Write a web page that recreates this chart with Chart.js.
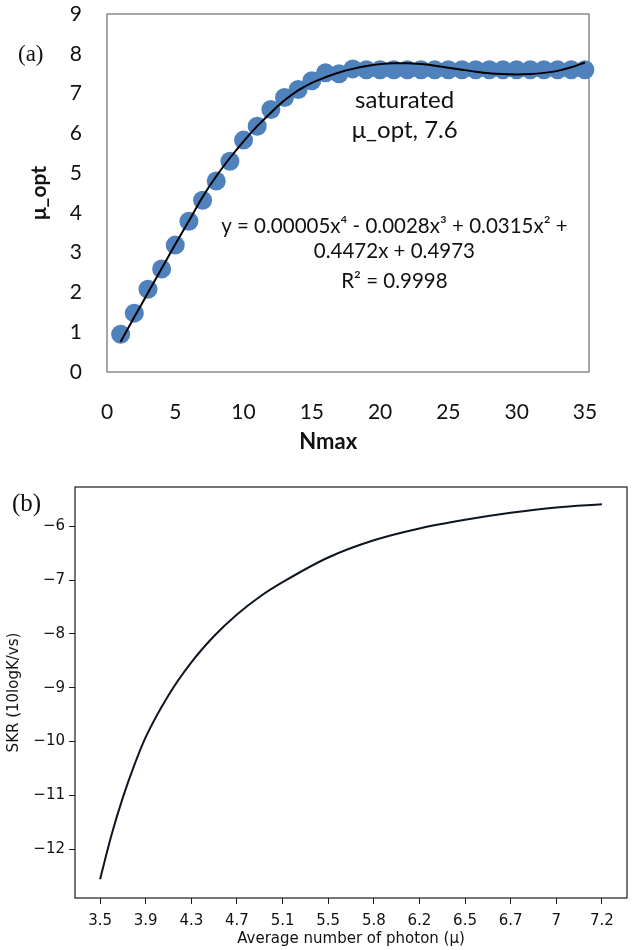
<!DOCTYPE html>
<html>
<head>
<meta charset="utf-8">
<script src="https://cdn.jsdelivr.net/npm/chart.js@4.4.1/dist/chart.umd.min.js"></script>
<style>
  body { margin: 0; background: #fff; }
  #wrap { position: relative; width: 636px; height: 950px; }
  canvas { position: absolute; left: 0; }
  #chartA { top: 0; }
  #chartB { top: 460px; }
  .tag { position: absolute; font-family: 'Liberation Serif', serif; color: #111; line-height: 1; }
</style>
</head>
<body>
<div id="wrap">
  <canvas id="chartA" width="636" height="460"></canvas>
  <canvas id="chartB" width="636" height="490"></canvas>
  <div class="tag" style="left:18px;top:42px;font-size:23px">(a)</div>
  <div class="tag" style="left:12px;top:490px;font-size:25px">(b)</div>
</div>
<script>
// (a) optimal mean photon number vs Nmax
const nmax = [1, 2, 3, 4, 5, 6, 7, 8, 9, 10, 11, 12, 13, 14, 15, 16, 17, 18,
  19, 20, 21, 22, 23, 24, 25, 26, 27, 28, 29, 30, 31, 32, 33, 34, 35];
const muOpt = [0.95, 1.48, 2.08, 2.59, 3.19, 3.79, 4.32, 4.8, 5.3, 5.83, 6.18, 6.6,
  6.9, 7.1, 7.32, 7.52, 7.5, 7.62, 7.6, 7.6, 7.6, 7.6, 7.6, 7.6, 7.6, 7.6, 7.6,
  7.6, 7.6, 7.6, 7.6, 7.6, 7.6, 7.6, 7.6];
// polynomial trendline as drawn in the figure
const trendMu = [0.76, 1.38, 1.99, 2.6, 3.21, 3.8, 4.4, 4.92, 5.38, 5.8, 6.18, 6.52,
  6.83, 7.08, 7.27, 7.41, 7.53, 7.62, 7.69, 7.74, 7.76, 7.76, 7.74, 7.7, 7.65,
  7.6, 7.55, 7.51, 7.49, 7.48, 7.49, 7.52, 7.57, 7.66, 7.78];
const nmaxTicks = [0, 5, 10, 15, 20, 25, 30, 35];

// (b) SKR vs average photon number (x positions are tick indices)
const photonTicks = ['3.5', '3.9', '4.3', '4.7', '5.1', '5.5', '5.8', '6.2', '6.5', '6.7', '7', '7.2'];
const skrPos = [0, 0.25, 0.5, 0.75, 1, 1.5, 2, 2.5, 3, 3.5, 4, 5, 6, 7, 8, 9, 10, 11];
const skrVal = [-12.56, -11.74, -11.04, -10.44, -9.92, -9.14, -8.53, -8.04, -7.64,
  -7.31, -7.04, -6.58, -6.26, -6.04, -5.88, -5.75, -5.65, -5.59];
const skrTicks = [-12, -11, -10, -9, -8, -7, -6];

const boxPlugin = {
  id: 'box',
  beforeDatasetsDraw(chart, args, opts) {
    const { ctx, chartArea: a } = chart;
    ctx.save();
    ctx.strokeStyle = opts.color;
    ctx.lineWidth = opts.width;
    ctx.strokeRect(a.left, a.top, a.right - a.left, a.bottom - a.top);
    ctx.restore();
  }
};

// free text placed in data coordinates
const notesPlugin = {
  id: 'notes',
  afterDraw(chart, args, opts) {
    const { ctx, scales } = chart;
    ctx.save();
    ctx.textAlign = 'center';
    ctx.textBaseline = 'middle';
    ctx.fillStyle = '#111';
    opts.items.forEach(n => {
      ctx.font = n.font;
      ctx.fillText(n.text, scales.x.getPixelForValue(n.x), scales.y.getPixelForValue(n.y));
    });
    ctx.restore();
  }
};

const lato = "Lato, 'Open Sans', sans-serif";
const noteFont = `20.5px ${lato}`;

new Chart(document.getElementById('chartA'), {
  type: 'scatter',
  data: {
    datasets: [
      {
        type: 'line',
        data: nmax.map((x, i) => ({ x, y: trendMu[i] })),
        borderColor: '#000',
        borderWidth: 2,
        pointRadius: 0,
        cubicInterpolationMode: 'monotone',
        order: 0,
        clip: false
      },
      {
        data: nmax.map((x, i) => ({ x, y: muOpt[i] })),
        backgroundColor: '#4f81bd',
        borderWidth: 0,
        pointRadius: 9.5,
        order: 1,
        clip: false
      }
    ]
  },
  options: {
    responsive: false,
    animation: false,
    layout: { padding: { left: 0, top: 14, right: 47, bottom: 8 } },
    plugins: {
      legend: { display: false },
      tooltip: { enabled: false },
      box: { color: '#8a8a8a', width: 1.5 },
      notes: {
        items: [
          { text: 'saturated', x: 21.8, y: 6.84, font: `24px ${lato}` },
          { text: 'μ_opt, 7.6', x: 21.8, y: 6.08, font: `24px ${lato}` },
          { text: 'y = 0.00005x⁴ - 0.0028x³ + 0.0315x² +', x: 21.05, y: 3.67, font: noteFont },
          { text: '0.4472x + 0.4973', x: 21.05, y: 3.02, font: noteFont },
          { text: 'R² = 0.9998', x: 21.05, y: 2.29, font: noteFont },
          { text: 'Nmax', x: 16.2, y: -1.76, font: `bold 22px ${lato}` }
        ]
      }
    },
    scales: {
      x: {
        type: 'linear',
        min: 0,
        max: 35.3,
        afterBuildTicks: s => { s.ticks = nmaxTicks.map(v => ({ value: v })); },
        afterFit: s => { s.height = 80; },
        grid: { display: false, drawTicks: false },
        border: { display: false },
        ticks: { font: { family: lato, size: 21 }, color: '#111', padding: 28, maxRotation: 0 }
      },
      y: {
        min: 0,
        max: 9,
        afterFit: s => { s.width = 107; s.paddingTop = 0; s.paddingBottom = 0; },
        grid: { display: false, drawTicks: false },
        border: { display: false },
        ticks: { stepSize: 1, font: { family: lato, size: 21 }, color: '#111', padding: 25 },
        title: {
          display: true,
          text: 'μ_opt',
          font: { family: lato, size: 21, weight: 'bold' },
          color: '#111',
          padding: { top: 27, bottom: 0 }
        }
      }
    }
  },
  plugins: [boxPlugin, notesPlugin]
});

const dv = "'DejaVu Sans', sans-serif";

new Chart(document.getElementById('chartB'), {
  type: 'scatter',
  data: {
    datasets: [{
      data: skrPos.map((x, i) => ({ x, y: skrVal[i] })),
      showLine: true,
      borderColor: '#0d1520',
      borderWidth: 2,
      pointRadius: 0,
      cubicInterpolationMode: 'monotone'
    }]
  },
  options: {
    responsive: false,
    animation: false,
    layout: { padding: { left: 0, top: 27, right: 9, bottom: 0 } },
    plugins: {
      legend: { display: false },
      tooltip: { enabled: false },
      box: { color: '#1a1a1a', width: 1.2 }
    },
    scales: {
      x: {
        type: 'linear',
        min: -0.55,
        max: 11.55,
        afterBuildTicks: s => { s.ticks = photonTicks.map((_, i) => ({ value: i })); },
        afterFit: s => { s.height = 52; },
        grid: { display: true, drawOnChartArea: false, drawTicks: true, tickLength: 6, color: '#1a1a1a' },
        border: { display: false },
        ticks: {
          callback: v => photonTicks[v],
          font: { family: dv, size: 15 },
          color: '#111',
          padding: 8,
          autoSkip: false,
          maxRotation: 0
        },
        title: {
          display: true,
          text: 'Average number of photon (μ)',
          font: { family: dv, size: 15 },
          color: '#111',
          padding: { top: 0, bottom: 2 }
        }
      },
      y: {
        min: -12.91,
        max: -5.27,
        afterBuildTicks: s => { s.ticks = skrTicks.map(v => ({ value: v })); },
        afterFit: s => { s.width = 75; },
        grid: { display: true, drawOnChartArea: false, drawTicks: true, tickLength: 6, color: '#1a1a1a' },
        border: { display: false },
        ticks: {
          callback: v => '\u2212' + Math.abs(v),
          font: { family: dv, size: 15 },
          color: '#111',
          padding: 4
        },
        title: {
          display: true,
          text: 'SKR (10logK/vs)',
          font: { family: dv, size: 15 },
          color: '#111',
          padding: { top: 5, bottom: 0 }
        }
      }
    }
  },
  plugins: [boxPlugin]
});
</script>
</body>
</html>
